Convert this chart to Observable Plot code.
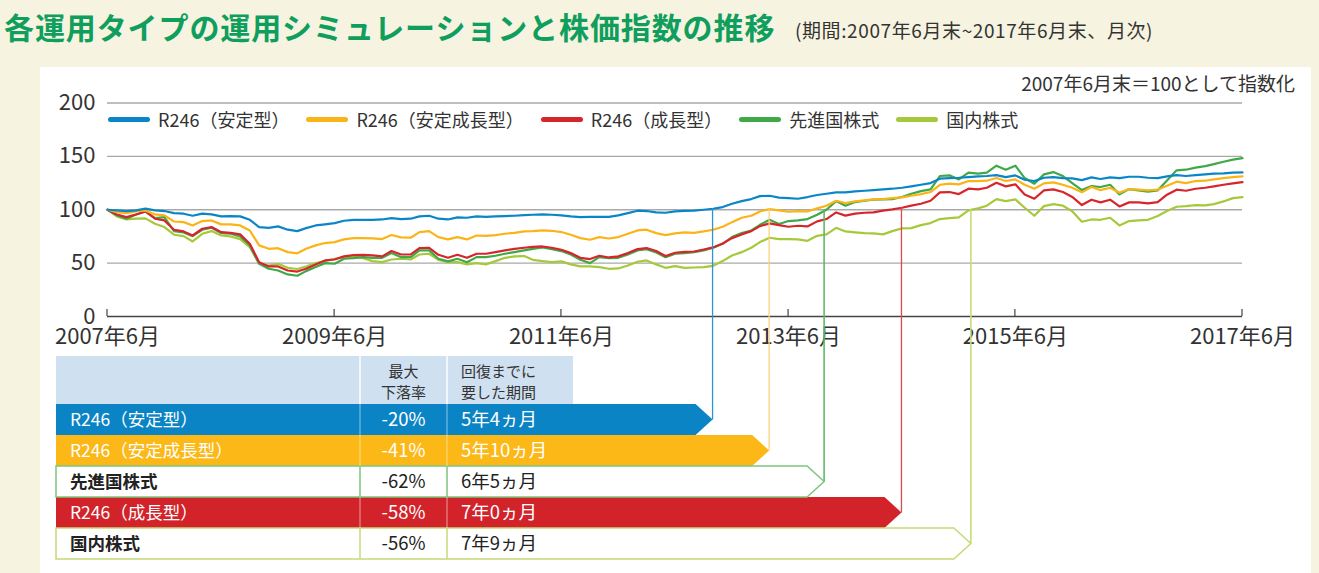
<!DOCTYPE html>
<html><head><meta charset="utf-8">
<script src="https://cdn.jsdelivr.net/npm/d3@7"></script>
<script src="https://cdn.jsdelivr.net/npm/@observablehq/plot@0.6"></script>
<style>
body{margin:0;width:1319px;height:573px;background:#f6f3e0;position:relative;overflow:hidden;font-family:"Noto Sans CJK JP","Noto Sans",sans-serif;}
#title{position:absolute;left:4px;top:6px;font-size:30px;font-weight:700;color:#0f9e5d;letter-spacing:0.9px;white-space:nowrap;line-height:40px}
#sub{position:absolute;left:795px;top:17px;font-size:19px;letter-spacing:0.6px;color:#333;white-space:nowrap;line-height:26px}
#panel{position:absolute;left:40px;top:67px;width:1271px;height:506px;background:#fff;}
#chart{position:absolute;left:40px;top:67px;}
#note{position:absolute;right:24px;top:70px;font-size:19px;color:#333;white-space:nowrap;line-height:26px}
#legend{position:absolute;left:108px;top:106px;display:flex;align-items:center;font-size:18px;color:#333;line-height:26px;white-space:nowrap}
#legend .item{display:flex;align-items:center;margin-right:17px}
#legend .sw{width:42px;height:5px;border-radius:3px;margin-right:8px}
</style></head>
<body>
<div id="title">各運用タイプの運用シミュレーションと株価指数の推移</div>
<div id="sub">(期間:2007年6月末~2017年6月末、月次)</div>
<div id="panel"></div>
<div id="chart"></div>
<div id="note">2007年6月末＝100として指数化</div>
<div id="legend"></div>
<script>
// ---- data ----
const seriesNames = ["R246（安定型）", "R246（安定成長型）", "R246（成長型）", "先進国株式", "国内株式"];
const seriesColors = ["#0a86c8", "#fbb417", "#d7252c", "#3ea946", "#a6c93c"];

const stable = [100,99.4,98.8,99.4,101,99.4,98.8,96.9,96.3,94.4,96.3,95.6,93.8,94,93.8,90.6,83.8,83.1,84.4,81.3,80,
82.8,85.3,86.3,87.5,89.7,90.6,90.6,90.6,90.9,92.2,91.3,91.6,93.8,94.4,91.6,90.9,92.8,92.5,93.8,93.4,
93.8,94.1,94.4,95,95.3,95.6,95.3,94.7,93.8,93.1,93.4,93.4,93.4,94.7,96.9,99.1,98.8,97.5,97.2,98.4,98.9,
99.1,100,100.9,102.5,105.6,108.1,110,112.8,113.1,111.3,110.9,110.3,111.9,113.8,115,116.3,116.3,117.2,117.8,118.4,
119.1,119.7,120.6,121.9,123.4,125,129.1,129.7,130,130.6,131.3,131.6,132.5,130.6,132.2,128.1,126.9,130,130.6,129.7,
129.4,127.8,130.3,128.8,130.3,129.7,130.9,130.9,130,129.7,131.3,132.5,131.6,132.5,133.1,133.8,134.1,134.7,135];

const stableGrowth = [100,97.8,96.9,98.4,99.4,95.6,94.7,89,88.4,85.3,89.4,90,86.3,86.3,85.3,80.6,66.6,63.4,64,60.3,59.2,
63.4,66.6,68.8,69.7,72.2,73.4,73.4,73.1,72.5,76.3,74.1,73.8,79.1,80,74.4,72.2,74.4,72.2,75.9,75.6,
76.3,77.5,78.4,79.7,80,80.6,80.3,79.1,76.6,73.4,71.9,74.4,73.1,74.4,77.5,80.6,81.3,78.1,76.3,77.8,78.8,
78.4,79.7,81.3,84.1,88.4,92.5,94.4,98.4,100.6,99.4,98.1,98.8,98.4,101.3,103.8,108.4,106.3,107.8,108.8,109.7,
110,110.9,111.6,113.1,114.7,116.6,123.4,124.4,123.8,126.9,126.9,127.2,129.7,126.9,128.4,123.4,119.7,124.7,125.6,123.4,
120.6,116.3,121.3,118.4,120.6,115.9,119.4,118.8,118.1,118.8,122.5,126.3,125,126.9,127.2,128.4,129.7,130.6,131.3];

const growth = [100,95.6,93.1,95.6,98.4,91.6,90,81.3,79.7,75.9,82.2,83.8,79,78.4,76.9,68.1,50.9,46.9,46.9,43.1,42.1,
44.7,48.8,52.5,53.4,56.3,57.5,57.8,57.2,56.3,61.3,58.1,58.1,64.1,64.4,57.8,55,57.8,55,58.8,58.8,
60.3,61.9,63.4,64.4,65.3,65.6,64.4,62.5,59.4,55,53.8,56.9,55.3,56.3,59.4,63.1,64.1,61.3,56.6,59.7,60.6,
60.9,62.8,64.7,68.4,73.4,76.9,80,84.7,87.2,85.6,84.1,85,84.4,89.1,91.3,97.5,94.5,96.3,97.2,97.5,
99.2,100.3,101.9,103.8,105.6,108.4,116.3,116.6,114.7,119.7,119.1,120.6,125.3,121.9,123.8,114.4,110.3,118.1,119.1,116.6,
112,104.4,109.4,106.9,109.4,103.1,106.9,106.9,105.9,107.2,114.1,118.8,117.8,119.7,120.6,121.9,123.4,124.7,125.9];

const devStocks = [100,94.7,91.6,95.6,98.4,92.2,93.1,80,78.8,75.3,81.3,83.1,78.1,77.5,75,66.6,49.4,44.7,43.1,39.4,38.2,
42.5,46.3,50,49.4,54.1,54.7,55.6,55,55,59.4,55.6,55.6,61.9,61.9,54.1,51.6,54.1,50.9,55.6,55.6,
56.9,58.8,60.3,61.9,63.4,64.7,63.1,61.3,58.1,53.1,50,55.6,54.7,55,58.1,61.9,63.1,60,55.6,58.8,59.4,
60.3,61.9,64.4,68.1,74.4,78.1,80.6,85.9,90.6,86.6,89.4,90,91.3,95.3,100,108.1,103.8,107.2,108.4,109.4,
109.7,110,111.9,115,117.5,119.1,131.6,132.2,128.4,134.7,133.8,134.7,141.3,137.5,141.3,129.7,124.4,133.1,135.3,131.6,
125,118.4,122.2,121.3,123.4,114.4,119.4,118.1,116.9,118.1,127.5,136.9,137.5,139.4,140.9,142.8,145,146.9,148.4];

const jpStocks = [100,93.8,90.9,91.6,91.9,86.9,83.8,76.6,75.3,70.3,77.5,80,75.9,75,72.5,65,49.4,47.8,49.4,45.6,44.5,
46.9,50,51.9,54.1,55.6,56.3,54.7,51.9,50.9,53.4,54.1,53.4,58.1,58.8,53.1,50.9,50.9,48.8,50,48.8,
51.9,55,56.3,56.6,53.1,51.9,50.9,51.6,48.8,46.9,46.9,46.3,44.7,45,47.8,51.3,52.5,48.8,45.6,47.2,45.6,
45.9,46.3,47.5,51.9,57.2,60.3,64.4,69.7,73.8,72.5,72.5,72.2,70.9,75.6,76.9,83.1,79.7,78.8,78.1,77.8,
76.9,80,82.5,82.8,85.6,87.5,91.3,92.2,92.8,99.4,101.3,103.8,110,108.1,109.7,101.9,94.4,103.4,105.3,103.8,
98.6,88.8,90.9,90.6,92.5,85.3,89.4,90,90.6,94.1,98.8,102.8,103.4,104.4,104.1,105.3,107.8,110.9,111.9];

const seriesValues = [stable, stableGrowth, growth, devStocks, jpStocks];

const tickLabels = ["2007年6月", "2009年6月", "2011年6月", "2013年6月", "2015年6月", "2017年6月"];
const yTicks = [0, 50, 100, 150, 200];

// table (ordered by recovery)
const tableSeries = [0, 1, 3, 2, 4];
const tableNames = ["R246（安定型）", "R246（安定成長型）", "先進国株式", "R246（成長型）", "国内株式"];
const maxDrawdown = ["-20%", "-41%", "-62%", "-58%", "-56%"];
const recoveryText = ["5年4ヵ月", "5年10ヵ月", "6年5ヵ月", "7年0ヵ月", "7年9ヵ月"];
const recoveryMonth = [64, 70, 75.8, 84, 91.3]; // months after 2007年6月, as drawn
const rowFilled = [true, true, false, true, false];
const rowOutline = ["#0b84c5", "#fbb817", "#7dc57c", "#d2232a", "#c4da76"];
const connectorColor = ["#2b95d3", "#fdd27c", "#5fbb65", "#e2474c", "#c8de78"];
const headerCol2 = ["最大", "下落率"];
const headerCol3 = ["回復までに", "要した期間"];

// ---- build ----
const start = new Date(Date.UTC(2007, 5, 1));
const months = d3.range(121).map(i => d3.utcMonth.offset(start, i));
const tickDates = tickLabels.map((_, i) => months[i * 24]);
const labelOf = new Map(tickDates.map((d, i) => [+d, tickLabels[i]]));
const dateAt = m => { const i = Math.floor(m), f = m - i; const a = d3.utcMonth.offset(start, i), b = d3.utcMonth.offset(start, i + 1); return new Date(+a + f * (b - a)); };
const valueAt = (vals, m) => { const i = Math.floor(m), f = m - i; return vals[i] + f * ((vals[Math.min(i + 1, vals.length - 1)]) - vals[i]); };

const FONT = '"Noto Sans CJK JP","Noto Sans",sans-serif';

const tableMark = (index, scales) => {
  const x = scales.x, y = scales.y;
  const g = d3.create("svg:g").attr("font-family", FONT).attr("text-anchor", "start");
  // x-axis baseline ticks (pointing up)
  tickDates.forEach(d => {
    g.append("line").attr("x1", x(d)).attr("x2", x(d)).attr("y1", y(0)).attr("y2", y(0) - 7)
      .attr("stroke", "#444").attr("stroke-width", 1.2);
  });
  const L = 16, C1 = 320, C2 = 407, HR = 533, HT = 289, HB = 337, RH = 31, HEAD = 17;
  // header
  g.append("rect").attr("x", L).attr("y", HT).attr("width", HR - L).attr("height", HB - HT).attr("fill", "#cfe0f1");
  [C1, C2].forEach(cx => g.append("line").attr("x1", cx).attr("x2", cx).attr("y1", HT).attr("y2", HB).attr("stroke", "#fff").attr("stroke-width", 1.5));
  headerCol2.forEach((t, k) => g.append("text").attr("x", (C1 + C2) / 2).attr("y", HT + 16 + k * 21).attr("dy", "0.35em")
    .attr("text-anchor", "middle").attr("font-size", 15).attr("fill", "#333").text(t));
  headerCol3.forEach((t, k) => g.append("text").attr("x", C2 + 14).attr("y", HT + 16 + k * 21).attr("dy", "0.35em")
    .attr("text-anchor", "start").attr("font-size", 15).attr("fill", "#333").text(t));
  const rows = tableNames.map((name, i) => {
    const top = HB + i * RH, mid = top + RH / 2;
    const m = recoveryMonth[i];
    const tip = x(dateAt(m));
    return {i, name, top, mid, tip, m};
  });
  // connectors from arrow tip up to the series line
  rows.forEach(r => {
    const vals = seriesValues[tableSeries[r.i]];
    g.append("line").attr("x1", r.tip).attr("x2", r.tip).attr("y1", r.mid).attr("y2", y(valueAt(vals, r.m)))
      .attr("stroke", connectorColor[r.i]).attr("stroke-width", rowFilled[r.i] ? 1.3 : 1.6);
  });
  const poly = r => [[L, r.top], [r.tip - HEAD, r.top], [r.tip, r.mid], [r.tip - HEAD, r.top + RH], [L, r.top + RH]].map(p => p.join(",")).join(" ");
  // fills
  rows.forEach(r => {
    g.append("polygon").attr("points", poly(r)).attr("fill", rowFilled[r.i] ? rowOutline[r.i] : "#fff");
  });
  // outlines
  rows.filter(r => !rowFilled[r.i]).forEach(r => {
    g.append("polygon").attr("points", poly(r)).attr("fill", "none").attr("stroke", rowOutline[r.i]).attr("stroke-width", 1.5);
  });
  // dividers and text
  rows.forEach(r => {
    const filled = rowFilled[r.i];
    [C1, C2].forEach(cx => g.append("line").attr("x1", cx).attr("x2", cx).attr("y1", r.top).attr("y2", r.top + RH)
      .attr("stroke", filled ? "rgba(255,255,255,0.55)" : rowOutline[r.i]).attr("stroke-width", filled ? 1 : 1.5));
    const col = filled ? "#fff" : "#222";
    g.append("text").attr("x", L + 14).attr("y", r.mid).attr("dy", "0.36em").attr("text-anchor", "start").attr("font-size", 17.5)
      .attr("font-weight", filled ? 400 : 700).attr("fill", col).text(r.name);
    g.append("text").attr("x", (C1 + C2) / 2).attr("y", r.mid).attr("dy", "0.36em").attr("text-anchor", "middle")
      .attr("font-size", 18.5).attr("fill", col).text(maxDrawdown[r.i]);
    g.append("text").attr("x", C2 + 14).attr("y", r.mid).attr("dy", "0.36em").attr("text-anchor", "start")
      .attr("font-size", 18.5).attr("fill", col).text(recoveryText[r.i]);
  });
  return g.node();
};

const drawOrder = [4, 3, 2, 1, 0];
const lineMarks = drawOrder.map(si => Plot.line(seriesValues[si], {
  x: (d, i) => months[i], y: d => d, stroke: seriesColors[si], strokeWidth: 2.2, strokeLinejoin: "round"
}));

const chart = Plot.plot({
  width: 1271, height: 506,
  marginLeft: 67, marginRight: 69, marginTop: 35.5, marginBottom: 257,
  style: {background: "transparent", fontFamily: FONT, fontSize: "22px", color: "#333", overflow: "visible"},
  x: {type: "utc", domain: [months[0], months[120]], ticks: tickDates, tickFormat: d => labelOf.get(+d) || "", tickSize: 0, tickPadding: 12, label: null},
  y: {domain: [0, 200], ticks: yTicks, tickSize: 0, tickPadding: 12, label: null},
  marks: [
    Plot.ruleY(yTicks.filter(v => v > 0), {stroke: "#a9a9a9", strokeWidth: 1.4}),
    Plot.ruleY([0], {stroke: "#444", strokeWidth: 1.4}),
    ...lineMarks,
    tableMark
  ]
});
document.getElementById("chart").appendChild(chart);

// legend
const lg = d3.select("#legend");
seriesNames.forEach((n, i) => {
  const it = lg.append("div").attr("class", "item");
  it.append("div").attr("class", "sw").style("background", seriesColors[i]);
  it.append("span").text(n);
});
</script>
</body></html>
